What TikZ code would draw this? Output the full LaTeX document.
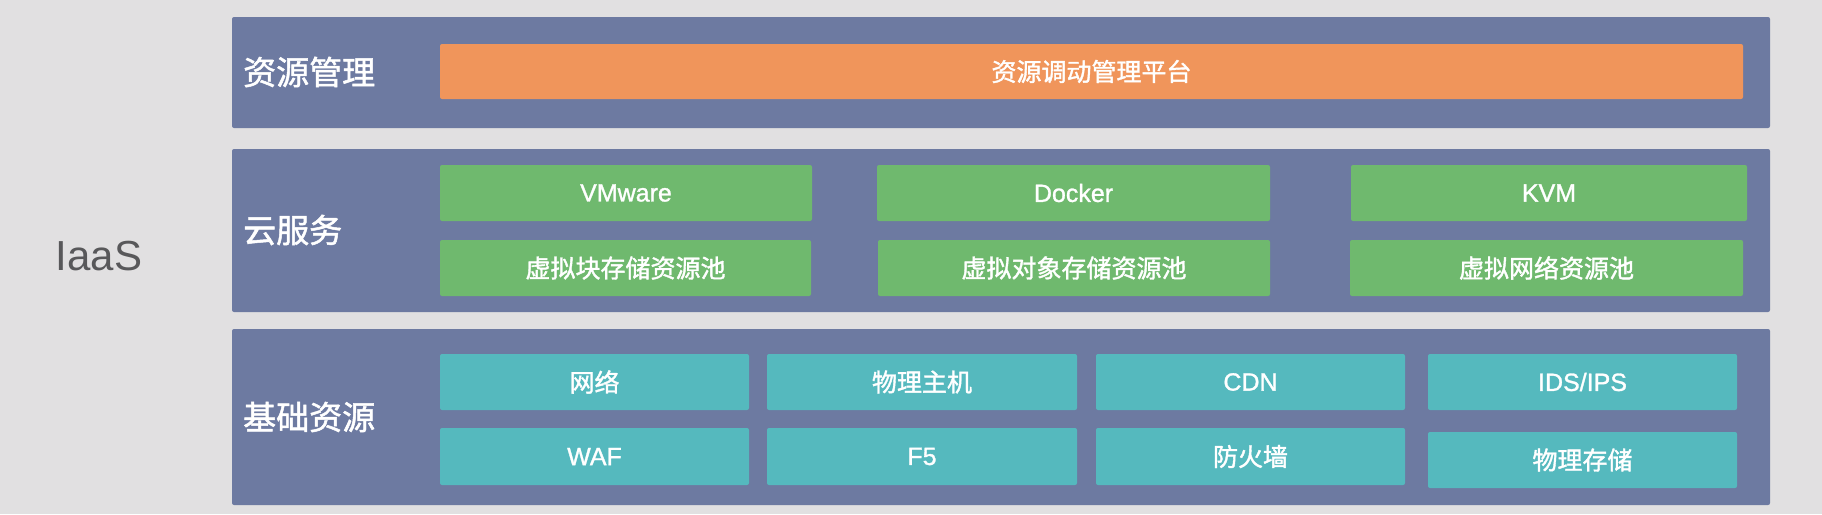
\documentclass[tikz,border=0pt]{standalone}
\usepackage{fontspec}
\setmainfont{Liberation Sans}[FakeBold=1.2]
\newfontfamily\cjk{Noto Sans CJK SC}[FakeBold=1.5]
\newfontfamily\latin{Liberation Sans}
\definecolor{bgc}{RGB}{225,224,225}
\definecolor{panelc}{RGB}{109,122,161}
\definecolor{orangec}{RGB}{240,149,91}
\definecolor{greenc}{RGB}{111,185,110}
\definecolor{tealc}{RGB}{85,185,190}
\definecolor{iaasc}{RGB}{88,88,90}
\tikzset{
  panel/.style={fill=panelc, draw=none, rounded corners=2pt, inner sep=0pt, minimum width=1538pt},
  boxbase/.style={draw=none, rounded corners=2pt, inner sep=0pt, text=white, font=\fontsize{25}{25}\selectfont},
  obox/.style={boxbase, fill=orangec, minimum height=55pt},
  gbox/.style={boxbase, fill=greenc, minimum height=56pt},
  tbox/.style={boxbase, fill=tealc, minimum height=56pt, minimum width=309pt},
  head/.style={anchor=west, inner sep=0pt, text=white, font=\cjk\fontsize{33}{33}\selectfont},
}
\begin{document}
\begin{tikzpicture}[x=1pt,y=-1pt]
\fill[bgc] (0,0) rectangle (1822,514);
\useasboundingbox (0,0) rectangle (1822,514);
% panels
\node[panel, minimum height=111pt] (p1) at (1001,72.5) {};
\node[panel, minimum height=163pt] (p2) at (1001,230.5) {};
\node[panel, minimum height=176pt] (p3) at (1001,417) {};
% headers
\node[head] (h1) at (243,72) {资源管理};
\node[head] (h2) at (243,230) {云服务};
\node[head] (h3) at (243,417) {基础资源};
\node[inner sep=0pt, text=iaasc, font=\latin\fontsize{42}{42}\selectfont] (iaas) at (99,256) {IaaS};
% resource management
\node[obox, minimum width=1303pt] (plat) at (1091.5,71.5) {\cjk 资源调动管理平台};
% cloud services
\node[gbox, minimum width=372pt] (vm) at (626,193) {VMware};
\node[gbox, minimum width=393pt] (dk) at (1073.5,193) {Docker};
\node[gbox, minimum width=396pt] (kvm) at (1549,193) {KVM};
\node[gbox, minimum width=371pt] (blk) at (625.5,268) {\cjk 虚拟块存储资源池};
\node[gbox, minimum width=392pt] (obj) at (1074,268) {\cjk 虚拟对象存储资源池};
\node[gbox, minimum width=393pt] (net) at (1546.5,268) {\cjk 虚拟网络资源池};
% base resources
\node[tbox] (wl) at (594.5,382) {\cjk 网络};
\node[tbox, minimum width=310pt] (host) at (922,382) {\cjk 物理主机};
\node[tbox] (cdn) at (1250.5,382) {CDN};
\node[tbox] (ids) at (1582.5,382) {IDS/IPS};
\node[tbox, minimum height=57pt] (waf) at (594.5,456.5) {WAF};
\node[tbox, minimum height=57pt, minimum width=310pt] (f5) at (922,456.5) {F5};
\node[tbox, minimum height=57pt] (fw) at (1250.5,456.5) {\cjk 防火墙};
\node[tbox] (stor) at (1582.5,460) {\cjk 物理存储};
\end{tikzpicture}
\end{document}
